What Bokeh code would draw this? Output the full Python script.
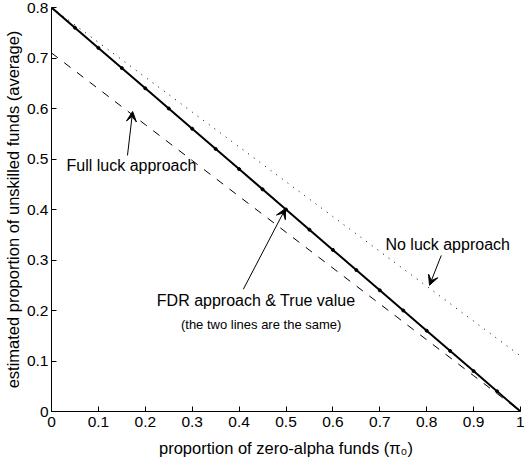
from bokeh.plotting import figure
from bokeh.models import Range1d, FixedTicker, Label, Arrow, VeeHead
from bokeh.embed import file_html
from bokeh.resources import INLINE

# --- data ---
pi0 = [0.0, 0.1, 0.2, 0.3, 0.4, 0.5, 0.6, 0.7, 0.8, 0.9, 1.0]
true_value = [0.80, 0.72, 0.64, 0.56, 0.48, 0.40, 0.32, 0.24, 0.16, 0.08, 0.00]
no_luck = [0.80, 0.731, 0.662, 0.593, 0.524, 0.455, 0.386, 0.317, 0.248, 0.179, 0.11]
full_luck = [0.71, 0.639, 0.568, 0.497, 0.426, 0.355, 0.284, 0.213, 0.142, 0.071, 0.00]
pi0_fdr = [0.0, 0.05, 0.1, 0.15, 0.2, 0.25, 0.3, 0.35, 0.4, 0.45, 0.5,
           0.55, 0.6, 0.65, 0.7, 0.75, 0.8, 0.85, 0.9, 0.95, 1.0]
fdr = [0.80, 0.76, 0.72, 0.68, 0.64, 0.60, 0.56, 0.52, 0.48, 0.44, 0.40,
       0.36, 0.32, 0.28, 0.24, 0.20, 0.16, 0.12, 0.08, 0.04, 0.00]

x_ticks = [0, 0.1, 0.2, 0.3, 0.4, 0.5, 0.6, 0.7, 0.8, 0.9, 1.0]
x_tick_labels = ["0", "0.1", "0.2", "0.3", "0.4", "0.5", "0.6", "0.7", "0.8", "0.9", "1"]
y_ticks = [0, 0.1, 0.2, 0.3, 0.4, 0.5, 0.6, 0.7, 0.8]
y_tick_labels = ["0", "0.1", "0.2", "0.3", "0.4", "0.5", "0.6", "0.7", "0.8"]

FONT = "Liberation Sans"

p = figure(width=524, height=460, x_range=Range1d(0, 1), y_range=Range1d(0, 0.8),
           output_backend="svg", toolbar_location=None,
           min_border_left=46, min_border_right=4, min_border_top=7, min_border_bottom=49)
p.outline_line_color = None
p.grid.visible = False
p.background_fill_color = "white"
p.border_fill_color = "white"

for ax, ticks, labels in ((p.xaxis, x_ticks, x_tick_labels), (p.yaxis, y_ticks, y_tick_labels)):
    ax.ticker = FixedTicker(ticks=ticks)
    ax.major_label_overrides = {t: l for t, l in zip(ticks, labels)}
    ax.major_tick_in = 5
    ax.major_tick_out = 0
    ax.minor_tick_line_color = None
    ax.axis_line_color = "black"
    ax.major_tick_line_color = "black"
    ax.major_label_text_font = FONT
    ax.major_label_text_font_size = "15.5px"
    ax.major_label_text_color = "black"
    ax.axis_label_text_font = FONT
    ax.axis_label_text_font_size = "16.5px"
    ax.axis_label_text_font_style = "normal"
    ax.axis_label_text_color = "black"

p.xaxis.axis_label = "proportion of zero-alpha funds (π₀)"
p.yaxis.axis_label = "estimated proportion of unskilled funds (average)"
p.xaxis.major_label_standoff = 5
p.xaxis.axis_label_standoff = 9
p.yaxis.major_label_standoff = 3
p.yaxis.axis_label_standoff = 2

# lines
p.line(pi0, no_luck, line_color="black", line_width=1, line_dash="1 6")
p.line(pi0, full_luck, line_color="black", line_width=1, line_dash="8 8")
p.line(pi0, true_value, line_color="black", line_width=2)
p.scatter(pi0_fdr, fdr, size=3, color="black")

# annotations
p.add_layout(Label(x=0.032, y=0.487, text="Full luck approach", text_font=FONT,
                   text_color="black",
                   text_font_size="16px", text_baseline="middle", text_align="left"))
p.add_layout(Arrow(end=VeeHead(size=10, fill_color="black", line_color="black"),
                   x_start=0.162, y_start=0.507, x_end=0.173, y_end=0.594, line_width=1))

p.add_layout(Label(x=0.712, y=0.331, text="No luck approach", text_font=FONT,
                   text_color="black",
                   text_font_size="16px", text_baseline="middle", text_align="left"))
p.add_layout(Arrow(end=VeeHead(size=10, fill_color="black", line_color="black"),
                   x_start=0.831, y_start=0.309, x_end=0.806, y_end=0.250, line_width=1))

p.add_layout(Label(x=0.648, y=0.220, text="FDR approach & True value", text_font=FONT,
                   text_color="black",
                   text_font_size="16px", text_baseline="middle", text_align="right"))
p.add_layout(Label(x=0.618, y=0.172, text="(the two lines are the same)", text_font=FONT,
                   text_color="black",
                   text_font_size="13px", text_baseline="middle", text_align="right"))
p.add_layout(Arrow(end=VeeHead(size=10, fill_color="black", line_color="black"),
                   x_start=0.409, y_start=0.242, x_end=0.499, y_end=0.402, line_width=1))

open("out.html", "w").write(file_html(p, INLINE))
